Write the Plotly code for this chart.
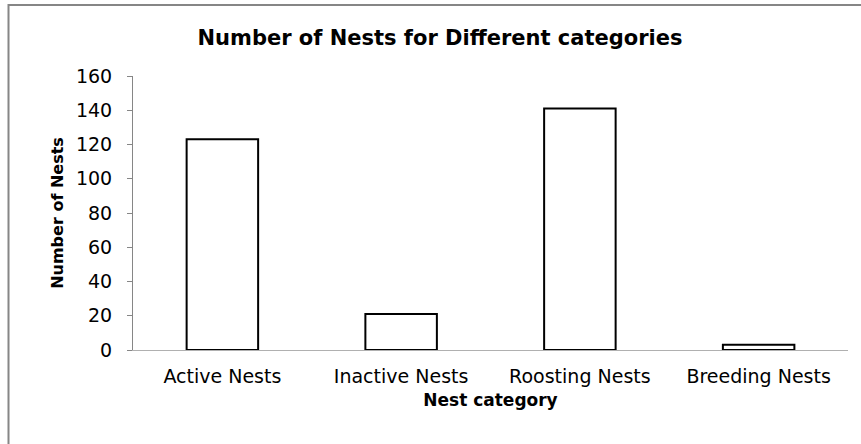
import plotly.graph_objects as go

categories = ["Active Nests", "Inactive Nests", "Roosting Nests", "Breeding Nests"]
nest_counts = [123, 21, 141, 3]
y_ticks = [0, 20, 40, 60, 80, 100, 120, 140, 160]

FONT = "DejaVu Sans"

fig = go.Figure()
fig.add_trace(go.Bar(
    x=categories,
    y=nest_counts,
    marker=dict(color="white", line=dict(color="black", width=2)),
    width=0.4,
))

L, R, T, B = 133, 13, 76, 94
W, H = 861, 444
pw = W - L - R
ph = H - T - B

fig.update_layout(
    width=W, height=H,
    margin=dict(l=L, r=R, t=T, b=B),
    paper_bgcolor="white",
    plot_bgcolor="white",
    showlegend=False,
    title=dict(
        text="<b>Number of Nests for Different categories</b>",
        x=440 / W, xanchor="center",
        y=1 - 38 / H, yanchor="middle",
        font=dict(family=FONT, size=21, color="black"),
    ),
    font=dict(family=FONT, color="black"),
)

fig.update_xaxes(
    showline=True, linecolor="#b0b0b0", linewidth=1,
    ticks="", showgrid=False,
    tickfont=dict(family=FONT, size=19, color="black"),
    ticklabelstandoff=9,
    title=dict(text="<b>Nest category</b>", font=dict(family=FONT, size=17, color="black"), standoff=8),
)
fig.update_yaxes(
    range=[0, 160], tickvals=y_ticks,
    showline=True, linecolor="#868686", linewidth=1,
    ticks="outside", ticklen=5, tickcolor="#868686",
    showgrid=False, zeroline=False,
    tickfont=dict(family=FONT, size=19, color="black"),
    ticklabelstandoff=11,
    title=dict(text="<b>Number of Nests</b>", font=dict(family=FONT, size=16, color="black"), standoff=8),
)

# outer chart border (only top and left visible in frame)
fig.add_shape(
    type="rect", xref="paper", yref="paper",
    x0=(8.5 - L) / pw, x1=(W + 20 - L) / pw,
    y0=-(H + 20 - (H - B)) / ph, y1=((H - B) - 5) / ph,
    line=dict(color="#868686", width=2), fillcolor="rgba(0,0,0,0)", layer="below",
)

fig.write_html("out.html")
